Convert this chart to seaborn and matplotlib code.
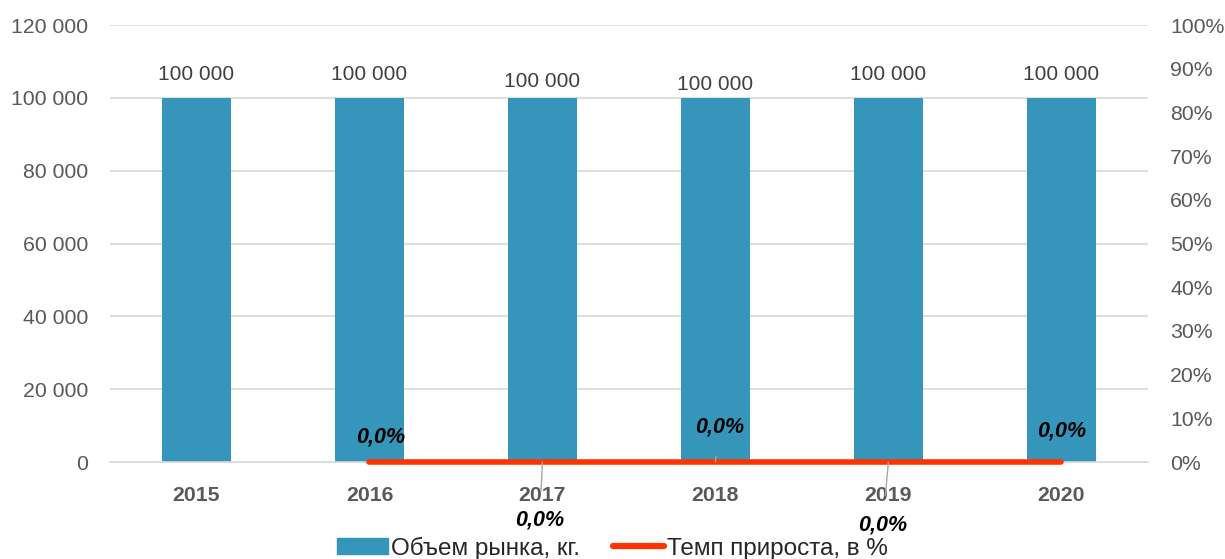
import matplotlib
matplotlib.use("Agg")
import matplotlib.pyplot as plt
import seaborn as sns
import numpy as np
import pandas as pd
from matplotlib.patches import Patch
from matplotlib.lines import Line2D

years = ["2015", "2016", "2017", "2018", "2019", "2020"]
volume = [100000, 100000, 100000, 100000, 100000, 100000]
growth_years = ["2016", "2017", "2018", "2019", "2020"]
growth = [0.0, 0.0, 0.0, 0.0, 0.0]

bar_color = "#3595BA"
line_color = "#FF3300"
grey = "#595959"

sns.set_theme(style="white")
plt.rcParams["font.family"] = ["Liberation Sans", "DejaVu Sans"]

fig = plt.figure(figsize=(12.25, 5.59), dpi=100)
ax = fig.add_axes([0.0898, 0.1735, 0.8472, 0.7815])

df = pd.DataFrame({"year": years, "volume": volume})
sns.barplot(data=df, x="year", y="volume", color=bar_color, width=0.4,
            saturation=1, ax=ax, zorder=2, linewidth=0)
ax.set_xlim(-0.5, 5.5)
ax.set_ylim(0, 120000)
ax.set_yticks(np.arange(0, 120001, 20000))
ax.set_yticklabels([f"{v:,}".replace(",", " ") for v in range(0, 120001, 20000)],
                   color=grey, fontsize=15.3)
ax.yaxis.grid(True, color="#D9D9D9", linewidth=1.2, zorder=0)
ax.set_axisbelow(True)
for s in ["top", "right", "left"]:
    ax.spines[s].set_visible(False)
ax.spines["bottom"].set_color("#D9D9D9")
ax.spines["bottom"].set_linewidth(1.2)
ax.tick_params(axis="y", length=0, pad=16)
ax.tick_params(axis="x", length=0, pad=17)
ax.set_xticks(range(len(years)))
ax.set_xticklabels(years, fontweight="bold", color=grey, fontsize=15.3)
ax.set_xlabel("")
ax.set_ylabel("")

# bar value labels (Excel placed them at slightly different heights)
label_offsets = [17, 17, 12, 9.5, 17, 17]
for i, v in enumerate(volume):
    ax.annotate(f"{v:,}".replace(",", " "), (i, v), xytext=(0, label_offsets[i]),
                textcoords="offset points", ha="center", va="center",
                fontsize=15, color="#404040")

ax2 = ax.twinx()
xpos = [years.index(y) for y in growth_years]
gdf = pd.DataFrame({"x": xpos, "growth": growth})
sns.lineplot(data=gdf, x="x", y="growth", color=line_color, linewidth=4,
             ax=ax2, zorder=5, solid_capstyle="round", clip_on=False)
ax2.set_ylim(0, 1)
ax2.set_xlim(-0.5, 5.5)
ax2.set_yticks(np.arange(0, 1.01, 0.1))
ax2.set_yticklabels([f"{int(round(t*100))}%" for t in np.arange(0, 1.01, 0.1)],
                    color=grey, fontsize=15.3)
ax2.tick_params(axis="y", length=0, pad=16)
ax2.set_ylabel("")
ax2.set_xlabel("")
for s in ax2.spines.values():
    s.set_visible(False)
ax2.grid(False)

# growth labels (offsets in points), some with leader lines
g_offsets = [(8, 18, False), (-2, -42, True), (3, 25, True), (-4, -45, True), (0, 22, False)]
for x, g, (dx, dy, leader) in zip(xpos, growth, g_offsets):
    txt = f"{g*100:.1f}%".replace(".", ",")
    kw = dict(xytext=(dx, dy), textcoords="offset points", ha="center",
              va="center", fontsize=15.5, fontweight="bold", fontstyle="italic",
              color="black", zorder=6)
    if leader:
        kw["arrowprops"] = dict(arrowstyle="-", color="#A6A6A6", lw=1,
                                shrinkA=11, shrinkB=0)
    ax2.annotate(txt, (x, g), annotation_clip=False, **kw)

handles = [Patch(facecolor=bar_color, edgecolor=bar_color),
           Line2D([0], [0], color=line_color, lw=4.5, solid_capstyle="round")]
fig.legend(handles, ["Объем рынка, кг.", "Темп прироста, в %"],
           loc="center", bbox_to_anchor=(0.5, 0.0197), ncol=2,
           frameon=False, fontsize=17.5, handlelength=2.1, handleheight=0.6,
           columnspacing=1.35, handletextpad=0.12, borderpad=0, borderaxespad=0)

fig.savefig("out.png", dpi=100)
